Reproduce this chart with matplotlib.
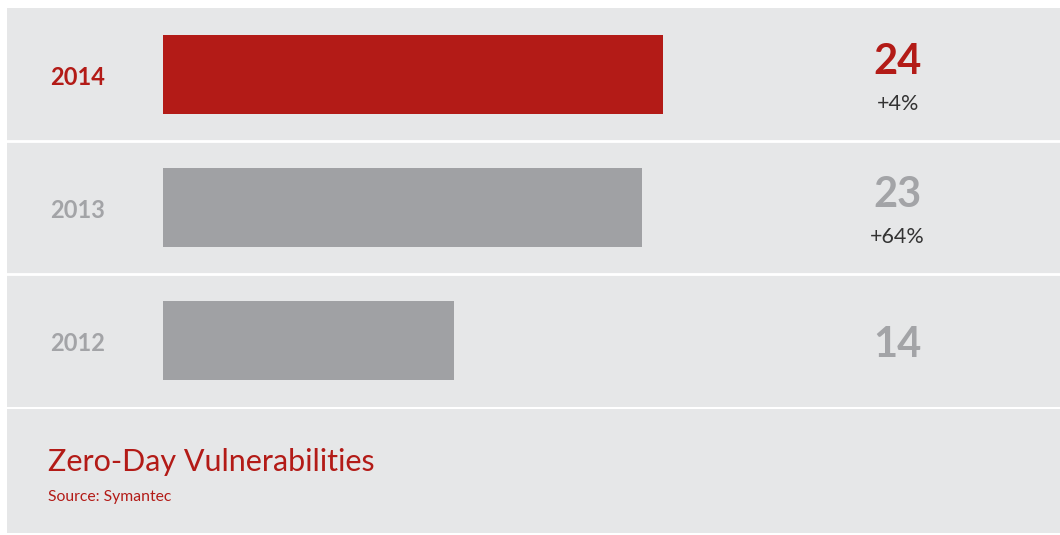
import matplotlib.pyplot as plt

# data
years = ["2012", "2013", "2014"]
values = [14, 23, 24]
changes = ["", "+64%", "+4%"]
highlight = "2014"

title = "Zero-Day Vulnerabilities"
source = "Source: Symantec"

red = "#B31B17"
grey_bar = "#A0A1A4"
grey_txt = "#A3A4A7"
panel = "#E6E7E8"
dark = "#333333"

plt.rcParams['font.family'] = ['Lato', 'DejaVu Sans']

W, H = 1060, 535
fig = plt.figure(figsize=(W / 100, H / 100), dpi=100)
fig.patch.set_facecolor("white")

# main rows panel
ax = fig.add_axes([7 / W, (H - 407) / H, 1053 / W, 399 / H])
ax.set_facecolor(panel)
ax.set_xlim(-7.5, 43.1)
ax.set_ylim(0, 3)
for s in ax.spines.values():
    s.set_visible(False)
ax.set_xticks([])
ax.set_yticks([])

ypos = [0.5, 1.5, 2.5]
colors = [red if y == highlight else grey_bar for y in years]
ax.barh(ypos, values, height=0.6, color=colors, left=0)

for b in [1, 2]:
    ax.axhline(b, color="white", lw=2)

for y, yr, v, ch in zip(ypos, years, values, changes):
    c = red if yr == highlight else grey_txt
    ax.text(-4.13, y - 0.01, yr, ha="center", va="center_baseline", fontsize=17,
            fontweight="bold", color=c)
    if ch:
        ax.text(35.3, y + 0.12, str(v), ha="center", va="center_baseline",
                fontsize=30, fontweight="bold", color=c)
        ax.text(35.3, y - 0.21, ch, ha="center", va="center_baseline",
                fontsize=15.5, color=dark)
    else:
        ax.text(35.3, y - 0.01, str(v), ha="center", va="center_baseline",
                fontsize=30, fontweight="bold", color=c)

# title panel
ax2 = fig.add_axes([7 / W, 2 / H, 1053 / W, 124 / H])
ax2.set_facecolor(panel)
ax2.set_xticks([])
ax2.set_yticks([])
for s in ax2.spines.values():
    s.set_visible(False)

fig.text(48 / W, (H - 471) / H, title, fontsize=22, color=red, va="baseline")
fig.text(48 / W, (H - 501) / H, source, fontsize=11.3, color=red, va="baseline")

fig.savefig("out.png", dpi=100, facecolor="white")
